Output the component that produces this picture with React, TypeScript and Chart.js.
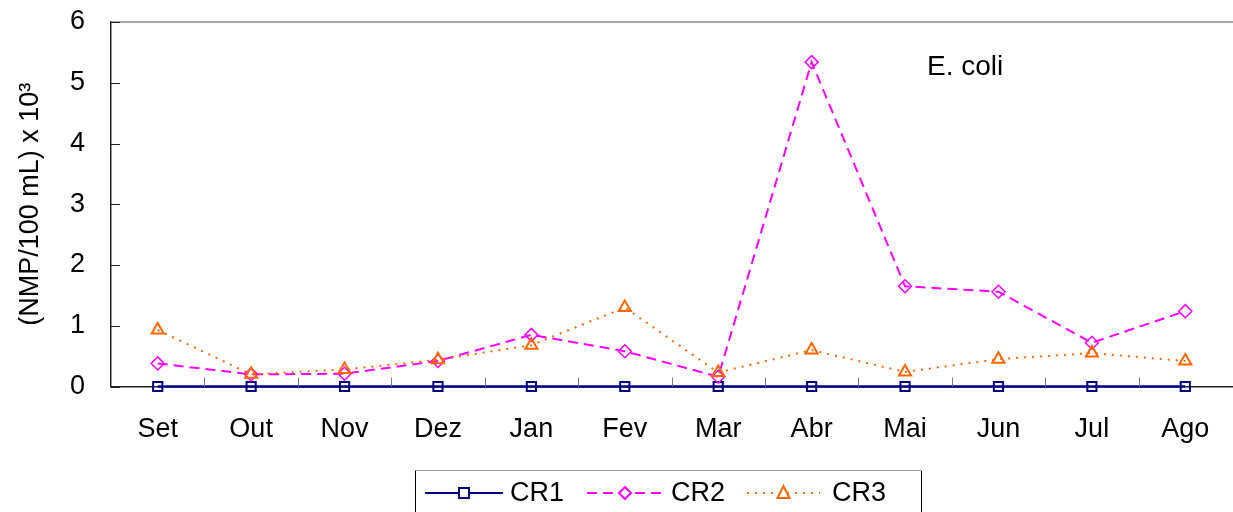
import React, { useEffect, useRef } from "react";
import { Chart, registerables } from "chart.js";

Chart.register(...registerables);

const months = ["Set", "Out", "Nov", "Dez", "Jan", "Fev", "Mar", "Abr", "Mai", "Jun", "Jul", "Ago"];
const cr1 = [0, 0, 0, 0, 0, 0, 0, 0, 0, 0, 0, 0];
const cr2 = [0.38, 0.2, 0.21, 0.42, 0.85, 0.58, 0.16, 5.34, 1.65, 1.56, 0.72, 1.24];
const cr3 = [0.93, 0.2, 0.28, 0.44, 0.68, 1.3, 0.23, 0.6, 0.24, 0.45, 0.55, 0.42];
const yTicks = [0, 1, 2, 3, 4, 5, 6];

const FONT = "'Liberation Sans', Arial, sans-serif";
const C1 = "#000080";
const C2 = "#FF00FF";
const C3 = "#FF6600";

const extras = {
  id: "extras",
  afterDraw(chart: any) {
    const ctx = chart.ctx;
    const a = chart.chartArea;
    const xs = chart.scales.x;
    const ys = chart.scales.y;
    ctx.save();
    // top border
    ctx.strokeStyle = "#888";
    ctx.lineWidth = 1.5;
    ctx.beginPath();
    ctx.moveTo(a.left, a.top);
    ctx.lineTo(a.right + 2, a.top);
    ctx.stroke();
    // inward y ticks
    ctx.strokeStyle = "#222";
    ctx.lineWidth = 1;
    for (const v of yTicks) {
      const y = Math.round(ys.getPixelForValue(v)) + 0.5;
      ctx.beginPath();
      ctx.moveTo(a.left, y);
      ctx.lineTo(a.left + 9, y);
      ctx.stroke();
    }
    // inward x ticks at category boundaries
    ctx.strokeStyle = "#777";
    for (let i = 1; i < months.length; i++) {
      const x = Math.round((xs.getPixelForValue(i - 1) + xs.getPixelForValue(i)) / 2) + 0.5;
      ctx.beginPath();
      ctx.moveTo(x, a.bottom);
      ctx.lineTo(x, a.bottom - 9);
      ctx.stroke();
    }
    // annotation
    ctx.fillStyle = "#000";
    ctx.font = `28px ${FONT}`;
    ctx.textAlign = "left";
    ctx.textBaseline = "middle";
    ctx.fillText("E. coli", 927, 67);

    // legend box
    ctx.strokeStyle = "#000";
    ctx.lineWidth = 1;
    ctx.strokeRect(415.5, 470.5, 506, 50);
    ctx.strokeStyle = "#999";
    ctx.beginPath();
    ctx.moveTo(415, 470.5);
    ctx.lineTo(922, 470.5);
    ctx.stroke();

    const items = [
      { x0: 425, x1: 503, label: "CR1", color: C1, dash: [] as number[], lw: 2, style: "rect", tx: 510 },
      { x0: 587, x1: 663, label: "CR2", color: C2, dash: [10, 6], lw: 2, style: "rectRot", tx: 671 },
      { x0: 747, x1: 820, label: "CR3", color: C3, dash: [2, 6], lw: 2, style: "triangle", tx: 832 },
    ];
    const ly = 493;
    for (const it of items) {
      ctx.strokeStyle = it.color;
      ctx.lineWidth = it.lw;
      ctx.setLineDash(it.dash);
      ctx.beginPath();
      ctx.moveTo(it.x0, ly);
      ctx.lineTo(it.x1, ly);
      ctx.stroke();
      ctx.setLineDash([]);
      const mx = (it.x0 + it.x1) / 2;
      ctx.fillStyle = "#fff";
      ctx.lineWidth = 2;
      ctx.strokeStyle = it.color;
      ctx.beginPath();
      if (it.style === "rect") {
        ctx.rect(mx - 5, ly - 5, 10, 10);
      } else if (it.style === "rectRot") {
        ctx.moveTo(mx, ly - 6);
        ctx.lineTo(mx + 6, ly);
        ctx.lineTo(mx, ly + 6);
        ctx.lineTo(mx - 6, ly);
        ctx.closePath();
      } else {
        ctx.moveTo(mx, ly - 7);
        ctx.lineTo(mx + 6, ly + 5);
        ctx.lineTo(mx - 6, ly + 5);
        ctx.closePath();
      }
      ctx.fill();
      ctx.stroke();
      ctx.fillStyle = "#000";
      ctx.font = `27px ${FONT}`;
      ctx.textAlign = "left";
      ctx.textBaseline = "middle";
      ctx.fillText(it.label, it.tx, ly + 1);
    }
    ctx.restore();
  },
};

export default function App() {
  const ref = useRef<HTMLCanvasElement | null>(null);
  useEffect(() => {
    if (!ref.current) return;
    const chart = new Chart(ref.current, {
      type: "line",
      data: {
        labels: months,
        datasets: [
          {
            label: "CR3",
            data: cr3,
            borderColor: C3,
            backgroundColor: "#fff",
            borderWidth: 2,
            borderDash: [2, 6],
            pointStyle: "triangle",
            pointRadius: 7,
            pointBorderWidth: 2,
            pointBorderColor: C3,
            pointBackgroundColor: "rgba(255,255,255,0)",
            tension: 0,
            clip: false,
          },
          {
            label: "CR2",
            data: cr2,
            borderColor: C2,
            backgroundColor: "#fff",
            borderWidth: 2,
            borderDash: [10, 6],
            pointStyle: "rectRot",
            pointRadius: 6.5,
            pointBorderWidth: 1.5,
            pointBorderColor: C2,
            pointBackgroundColor: "rgba(255,255,255,0)",
            tension: 0,
            clip: false,
          },
          {
            label: "CR1",
            data: cr1,
            borderColor: C1,
            backgroundColor: "#fff",
            borderWidth: 2.5,
            pointStyle: "rect",
            pointRadius: 6.5,
            pointBorderWidth: 2,
            pointBorderColor: C1,
            pointBackgroundColor: "rgba(255,255,255,0)",
            tension: 0,
            clip: false,
          },
        ],
      },
      options: {
        animation: false,
        responsive: false,
        maintainAspectRatio: false,
        layout: { autoPadding: false, padding: { left: 0, right: 1, top: 22, bottom: 0 } },
        plugins: { legend: { display: false }, tooltip: { enabled: false } },
        scales: {
          x: {
            offset: true,
            grid: { display: false, drawTicks: false },
            border: { color: "#222", width: 1.5 },
            ticks: { color: "#000", font: { family: FONT, size: 27 }, padding: 27, maxRotation: 0, autoSkip: false },
            afterFit: (s: any) => {
              s.height = 125.5;
              s.paddingLeft = 0;
              s.paddingRight = 0;
            },
          },
          y: {
            min: 0,
            max: 6,
            grid: { display: false, drawTicks: false },
            border: { color: "#222", width: 1.5 },
            ticks: { stepSize: 1, color: "#000", font: { family: FONT, size: 27 }, padding: 26 },
            title: {
              display: true,
              text: "(NMP/100 mL) x 10³",
              color: "#000",
              font: { family: FONT, size: 27 },
              padding: { top: 14, bottom: 0 },
            },
            afterFit: (s: any) => {
              s.width = 111;
              s.paddingTop = 0;
              s.paddingBottom = 0;
            },
          },
        },
      },
      plugins: [extras],
    });
    return () => chart.destroy();
  }, []);
  return (
    <div style={{ position: "fixed", left: 0, top: 0, width: 1233, height: 512, background: "#fff" }}>
      <canvas ref={ref} width={1233} height={512} style={{ width: 1233, height: 512 }} />
    </div>
  );
}
